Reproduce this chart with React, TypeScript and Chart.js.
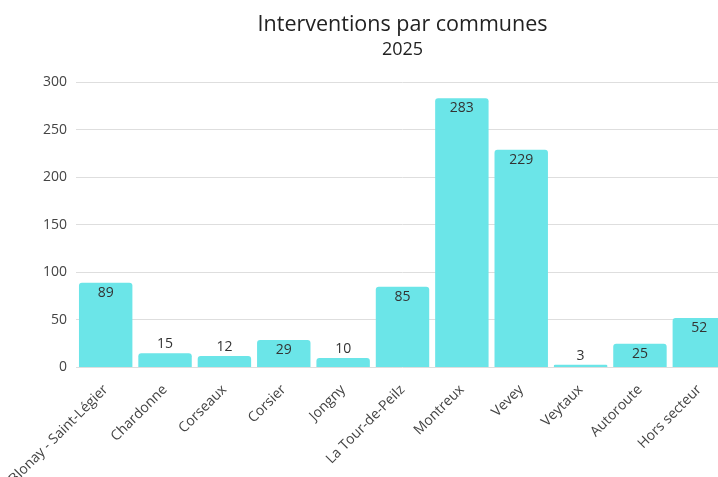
import React, { useEffect, useRef } from "react";
import { Chart, registerables } from "chart.js";
Chart.register(...registerables);

const categories = [
  "Blonay - Saint-Légier",
  "Chardonne",
  "Corseaux",
  "Corsier",
  "Jongny",
  "La Tour-de-Peilz",
  "Montreux",
  "Vevey",
  "Veytaux",
  "Autoroute",
  "Hors secteur",
];
const interventions = [89, 15, 12, 29, 10, 85, 283, 229, 3, 25, 52];
const yTicks = [0, 50, 100, 150, 200, 250, 300];
const chartTitle = "Interventions par communes";
const chartSubtitle = "2025";

const FONT = "'Open Sans', 'DejaVu Sans', sans-serif";

const labelPlugin = {
  id: "barLabels",
  afterDatasetsDraw(chart: any) {
    const ctx = chart.ctx;
    const meta = chart.getDatasetMeta(0);
    const data = chart.data.datasets[0].data;
    ctx.save();
    ctx.font = `14px ${FONT}`;
    ctx.fillStyle = "#333";
    ctx.textAlign = "center";
    ctx.textBaseline = "middle";
    meta.data.forEach((bar: any, i: number) => {
      const h = bar.base - bar.y;
      const y = h > 20 ? bar.y + 10 : bar.y - 9;
      ctx.fillText(String(data[i]), bar.x, y);
    });
    ctx.restore();
  },
};

export default function App() {
  const ref = useRef<HTMLCanvasElement>(null);
  useEffect(() => {
    if (!ref.current) return;
    const chart = new Chart(ref.current, {
      type: "bar",
      data: {
        labels: categories,
        datasets: [
          {
            data: interventions,
            backgroundColor: "#6be5e8",
            borderRadius: 3,
            barPercentage: 0.9,
            categoryPercentage: 1,
          },
        ],
      },
      plugins: [labelPlugin],
      options: {
        animation: false,
        responsive: true,
        maintainAspectRatio: false,
        layout: { padding: 0 },
        plugins: {
          legend: { display: false },
          tooltip: { enabled: false },
          title: {
            display: true,
            text: chartTitle,
            fullSize: false,
            color: "#222",
            font: { family: FONT, size: 21.5, weight: "normal" },
            padding: { top: 11.5, bottom: 2 },
          },
          subtitle: {
            display: true,
            text: chartSubtitle,
            fullSize: false,
            color: "#222",
            font: { family: FONT, size: 18, weight: "normal" },
            padding: { top: 0, bottom: 21.3 },
          },
        },
        scales: {
          x: {
            grid: { display: false },
            border: { display: false },
            ticks: {
              color: "#444",
              font: { family: FONT, size: 14 },
              minRotation: 45,
              maxRotation: 45,
              autoSkip: false,
              padding: 6,
            },
            afterFit: (scale: any) => {
              scale.paddingLeft = 0;
              scale.paddingRight = 0;
              scale.height = 109.5;
            },
          },
          y: {
            min: 0,
            max: 300,
            grid: { color: "#dedede", drawTicks: false },
            border: { display: false },
            ticks: {
              color: "#444",
              font: { family: FONT, size: 14 },
              padding: 9,
            },
            afterBuildTicks: (scale: any) => {
              scale.ticks = yTicks.map((v) => ({ value: v }));
            },
            afterFit: (scale: any) => {
              scale.width = 76;
            },
          },
        },
      },
    } as any);
    return () => chart.destroy();
  }, []);
  return (
    <div
      style={{
        position: "fixed",
        left: 0,
        top: 0,
        width: 718,
        height: 477,
        overflow: "hidden",
        background: "#fff",
      }}
    >
      <div style={{ position: "relative", width: 729, height: 477 }}>
        <canvas ref={ref} />
      </div>
    </div>
  );
}
